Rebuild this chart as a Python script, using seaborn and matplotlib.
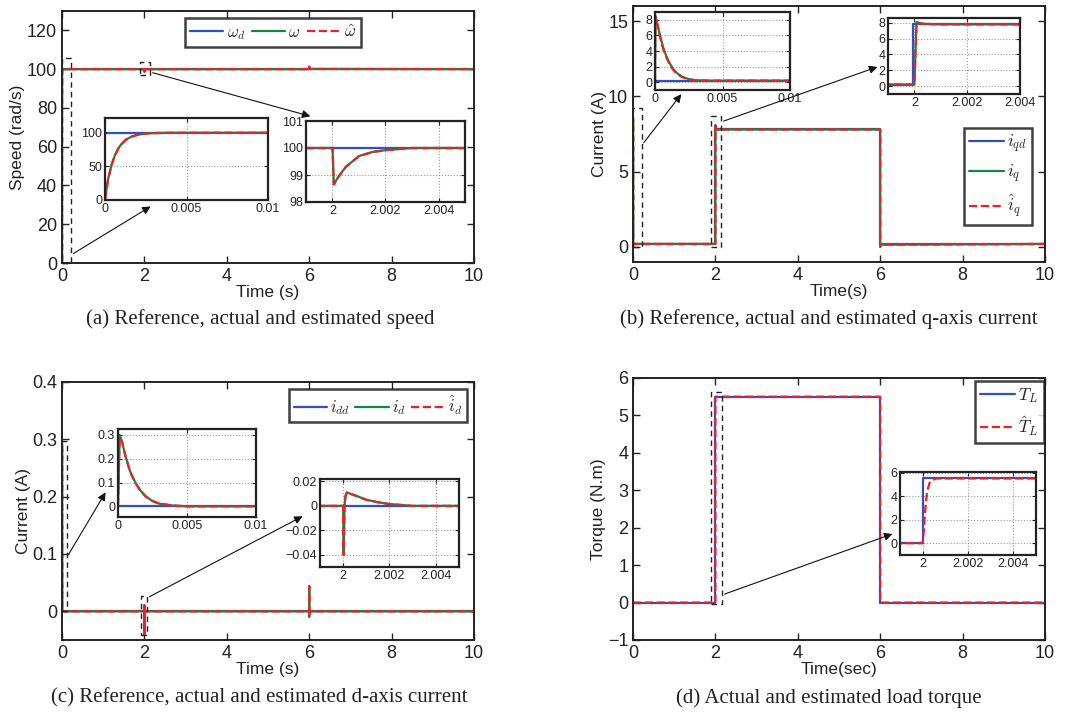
import numpy as np
import pandas as pd
import matplotlib
matplotlib.use("Agg")
import matplotlib.pyplot as plt
import seaborn as sns

# speed (rad/s)
t_w = [0, 0.0001, 0.0002, 0.0004, 0.0006, 0.0008, 0.001, 0.0013, 0.0016, 0.002, 0.0025, 0.003, 0.004,
       2.0, 2.00005, 2.0002, 2.0005, 2.001, 2.0015, 2.002, 2.003,
       6.0, 6.00005, 6.0005, 6.002, 10]
w = [0, 17, 32, 52, 66, 76, 83, 90, 94, 97, 99, 99.6, 100,
     100, 98.65, 98.9, 99.3, 99.7, 99.85, 99.92, 100,
     100, 101.3, 100.7, 100.1, 100]
w_hat = [0, 17, 32, 52, 66, 76, 83, 90, 94, 97, 99, 99.6, 100,
         100, 98.65, 98.9, 99.3, 99.7, 99.85, 99.92, 100,
         100, 101.3, 100.7, 100.1, 100]
t_wd = [0, 10]
w_d = [100, 100]

# q-axis current (A)
t_iq = [0, 0.00003, 0.0002, 0.0004, 0.0006, 0.0008, 0.001, 0.0013, 0.0016, 0.002, 0.0025, 0.003, 0.004,
        2.0, 2.00008, 2.0002, 2.0004, 2.001, 6.0, 6.00008, 6.0003, 10]
iq = [0, 8.5, 7.3, 5.8, 4.5, 3.5, 2.7, 1.8, 1.2, 0.7, 0.4, 0.25, 0.2,
      0.2, 8.1, 7.95, 7.85, 7.8, 7.8, 0.0, 0.15, 0.2]
iq_hat = [0, 8.4, 7.2, 5.6, 4.3, 3.4, 2.6, 1.7, 1.1, 0.65, 0.38, 0.24, 0.2,
          0.2, 8.0, 7.9, 7.85, 7.8, 7.8, 0.0, 0.15, 0.2]
t_iqd = [0, 1.99995, 1.99995, 6.0, 6.0, 10]
iq_d = [0.2, 0.2, 7.8, 7.8, 0.2, 0.2]

# d-axis current (A)
t_id = [0, 0.00012, 0.0003, 0.0005, 0.0008, 0.001, 0.0013, 0.0016, 0.002, 0.0025, 0.003, 0.004, 0.005,
        2.0, 2.00002, 2.00006, 2.0001, 2.00016, 2.0003, 2.0006, 2.001, 2.0015, 2.002, 2.003,
        6.0, 6.00002, 6.00008, 6.0002, 6.001, 6.003, 10]
i_d = [0, 0.3, 0.27, 0.22, 0.16, 0.13, 0.095, 0.068, 0.042, 0.022, 0.011, 0.003, 0.0,
       0, -0.04, 0.0, 0.008, 0.011, 0.01, 0.008, 0.005, 0.003, 0.0015, 0.0,
       0, 0.044, 0.0, -0.01, -0.005, 0, 0]
i_d_hat = [0, 0.29, 0.27, 0.22, 0.16, 0.13, 0.095, 0.068, 0.042, 0.022, 0.011, 0.003, 0.0,
           0, -0.04, 0.0, 0.008, 0.011, 0.01, 0.008, 0.005, 0.003, 0.0015, 0.0,
           0, 0.044, 0.0, -0.01, -0.005, 0, 0]
t_idd = [0, 10]
i_dd = [0, 0]

# load torque (N.m)
t_TL = [0, 2.0, 2.0, 6.0, 6.0, 10]
T_L = [0, 0, 5.5, 5.5, 0, 0]
t_TLh = [0, 2.0, 2.00005, 2.0001, 2.00015, 2.0002, 2.0003, 2.0004, 2.0006,
         6.0, 6.00005, 6.0001, 6.0002, 6.0003, 6.0006, 10]
T_L_hat = [0, 0, 1.0, 2.5, 3.6, 4.4, 5.1, 5.35, 5.5,
           5.5, 4.5, 3.0, 1.4, 0.5, 0, 0]

BLUE = "#2f4fc4"
GREEN = "#0f8a3c"
RED = "#f01e28"

sns.set_style("ticks")
plt.rcParams["font.family"] = ["Liberation Sans", "DejaVu Sans"]
plt.rcParams["mathtext.fontset"] = "cm"

W, H = 1069, 722
fig = plt.figure(figsize=(W / 100, H / 100), dpi=100)


def px_axes(l, t, r, b):
    return fig.add_axes([l / W, 1 - b / H, (r - l) / W, (b - t) / H])


def draw(ax, t, y, color, dashed=False, lw=1.6, label=None):
    sns.lineplot(x=t, y=y, color=color, ax=ax, estimator=None, sort=False,
                 linestyle="--" if dashed else "-", lw=lw, label=label,
                 legend=False)


def style_main(ax, xlabel, ylabel, xlim, ylim, yticks):
    ax.set_xlim(*xlim)
    ax.set_ylim(*ylim)
    ax.set_xticks([0, 2, 4, 6, 8, 10])
    ax.set_yticks(yticks)
    ax.tick_params(direction="in", top=True, right=True, length=5, labelsize=13,
                   width=1, colors="#222222")
    for s in ax.spines.values():
        s.set_linewidth(1.4)
        s.set_color("#222222")
    ax.set_xlabel(xlabel, fontsize=12.5, labelpad=0, color="#222222")
    ax.set_ylabel(ylabel, fontsize=12.5, labelpad=1, color="#222222")


def style_inset(ax, xlim, ylim, xticks, xlabels, yticks, fs=7.5):
    ax.set_xlim(*xlim)
    ax.set_ylim(*ylim)
    ax.set_xticks(xticks)
    ax.set_xticklabels(xlabels)
    ax.set_yticks(yticks)
    ax.grid(True, linestyle=":", color="#999999", lw=0.8)
    ax.tick_params(direction="in", top=True, right=True, length=3, labelsize=fs,
                   pad=2, colors="#222222")
    for s in ax.spines.values():
        s.set_linewidth(1.6)
        s.set_color("#222222")
    ax.set_xlabel("")
    ax.set_ylabel("")


def zoom_box(ax, x0, x1, y0, y1):
    ax.plot([x0, x1, x1, x0, x0], [y0, y0, y1, y1, y0], color="#222222",
            linestyle=(0, (4, 3)), lw=1, clip_on=False)


def arrow(p_from, p_to):
    fig.add_artist(matplotlib.patches.FancyArrowPatch(
        (p_from[0] / W, 1 - p_from[1] / H), (p_to[0] / W, 1 - p_to[1] / H),
        transform=fig.transFigure, arrowstyle="-|>", mutation_scale=12,
        color="#111111", lw=0.8))


def legend(ax, cx, cy, ncol, fs, spacing=0.5, colsp=0.4):
    h, lab = ax.get_legend_handles_labels()
    leg = ax.legend(h, lab, loc="center", bbox_to_anchor=(cx / W, 1 - cy / H),
                    bbox_transform=fig.transFigure, ncol=ncol, fontsize=fs,
                    frameon=True, fancybox=False, handlelength=2.0,
                    columnspacing=colsp, handletextpad=0.2, borderpad=0.3,
                    labelspacing=spacing, borderaxespad=0)
    leg.get_frame().set_edgecolor("#111111")
    leg.get_frame().set_linewidth(1.8)


def caption(x, y, text):
    fig.text(x / W, 1 - y / H, text, ha="center", va="center", fontsize=15,
             family=["Liberation Serif", "DejaVu Serif"], color="#222222")


# (a) speed
ax = px_axes(62, 11, 474, 263)
draw(ax, t_wd, w_d, BLUE, label=r"$\omega_d$")
draw(ax, t_w, w, GREEN, label=r"$\omega$")
draw(ax, t_w, w_hat, RED, dashed=True, label=r"$\hat{\omega}$")
style_main(ax, "Time (s)", "Speed (rad/s)", (0, 10), (0, 130), range(0, 121, 20))
zoom_box(ax, 0, 0.22, 0, 105.6)
zoom_box(ax, 1.9, 2.14, 96.9, 103.6)
legend(ax, 273, 32.5, 3, 12)
for (l, t, r, b), xl, yl, xt, xs, yt in [
        ((105, 118, 268, 200), (0, 0.01), (0, 122), [0, 0.005, 0.01], ["0", "0.005", "0.01"], [0, 50, 100]),
        ((306, 121, 465, 202), (1.999, 2.005), (98, 101), [2, 2.002, 2.004], ["2", "2.002", "2.004"], [98, 99, 100, 101])]:
    ins = px_axes(l, t, r, b)
    draw(ins, t_wd, w_d, BLUE)
    draw(ins, t_w, w, GREEN)
    draw(ins, t_w, w_hat, RED, dashed=True)
    style_inset(ins, xl, yl, xt, xs, yt, fs=9)
arrow((71, 255), (153, 205))
arrow((150, 72), (313, 117))
caption(260, 319, "(a) Reference, actual and estimated speed")

# (b) q-axis current
ax = px_axes(633, 6, 1045, 262)
draw(ax, t_iqd, iq_d, BLUE, label=r"$i_{qd}$")
draw(ax, t_iq, iq, GREEN, label=r"$i_q$")
draw(ax, t_iq, iq_hat, RED, dashed=True, label=r"$\hat{i}_q$")
style_main(ax, "Time(s)", "Current (A)", (0, 10), (-1, 16), [0, 5, 10, 15])
zoom_box(ax, 0, 0.22, 0, 9.25)
zoom_box(ax, 1.9, 2.14, 0, 8.7)
legend(ax, 998, 176.5, 1, 12.5, spacing=0.45)
for (l, t, r, b), xl, yl, xt, xs in [
        ((655, 12, 790, 90), (0, 0.01), (-1, 9), [0, 0.005, 0.01], ["0", "0.005", "0.01"]),
        ((888, 18, 1020, 94), (1.999, 2.004), (-1, 8.6), [2, 2.002, 2.004], ["2", "2.002", "2.004"])]:
    ins = px_axes(l, t, r, b)
    draw(ins, t_iqd, iq_d, BLUE)
    draw(ins, t_iq, iq, GREEN)
    draw(ins, t_iq, iq_hat, RED, dashed=True)
    style_inset(ins, xl, yl, xt, xs, [0, 2, 4, 6, 8], fs=9)
arrow((642, 145), (683, 92))
arrow((721, 122), (880, 66))
caption(829, 319, "(b) Reference, actual and estimated q-axis current")

# (c) d-axis current
ax = px_axes(62, 382, 474, 640)
draw(ax, t_idd, i_dd, BLUE, label=r"$i_{dd}$")
draw(ax, t_id, i_d, GREEN, label=r"$i_d$")
draw(ax, t_id, i_d_hat, RED, dashed=True, label=r"$\hat{i}_d$")
style_main(ax, "Time (s)", "Current (A)", (0, 10), (-0.05, 0.4), [0, 0.1, 0.2, 0.3, 0.4])
ax.set_yticklabels(["0", "0.1", "0.2", "0.3", "0.4"])
zoom_box(ax, 0, 0.12, 0, 0.297)
zoom_box(ax, 1.92, 2.06, -0.042, 0.026)
legend(ax, 378, 405.5, 3, 12, colsp=0.3)
for (l, t, r, b), xl, yl, xt, xs, yt, ytl in [
        ((118, 429, 256, 517), (0, 0.01), (-0.045, 0.325), [0, 0.005, 0.01], ["0", "0.005", "0.01"],
         [0, 0.1, 0.2, 0.3], ["0", "0.1", "0.2", "0.3"]),
        ((320, 479, 459, 567), (1.999, 2.005), (-0.05, 0.022), [2, 2.002, 2.004], ["2", "2.002", "2.004"],
         [-0.04, -0.02, 0, 0.02], ["\u22120.04", "\u22120.02", "0", "0.02"])]:
    ins = px_axes(l, t, r, b)
    draw(ins, t_idd, i_dd, BLUE)
    draw(ins, t_id, i_d, GREEN)
    draw(ins, t_id, i_d_hat, RED, dashed=True)
    style_inset(ins, xl, yl, xt, xs, yt, fs=9)
    ins.set_yticklabels(ytl)
arrow((67, 557), (107, 490))
arrow((147, 598), (305, 515))
caption(259, 698, "(c) Reference, actual and estimated d-axis current")

# (d) load torque
ax = px_axes(633, 378, 1045, 640)
draw(ax, t_TL, T_L, BLUE, label=r"$T_L$")
draw(ax, t_TLh, T_L_hat, RED, dashed=True, label=r"$\hat{T}_L$")
style_main(ax, "Time(sec)", "Torque (N.m)", (0, 10), (-1, 6), range(-1, 7))
zoom_box(ax, 1.9, 2.17, -0.04, 5.63)
legend(ax, 1009.5, 412, 1, 12.5, spacing=0.5)
ins = px_axes(900, 472, 1036, 555)
draw(ins, t_TL, T_L, BLUE)
draw(ins, t_TLh, T_L_hat, RED, dashed=True)
style_inset(ins, (1.999, 2.005), (-1, 6.05), [2, 2.002, 2.004], ["2", "2.002", "2.004"], [0, 2, 4, 6], fs=9)
arrow((722, 595), (895, 533))
caption(829, 698, "(d) Actual and estimated load torque")

fig.savefig("out.png", dpi=100)
